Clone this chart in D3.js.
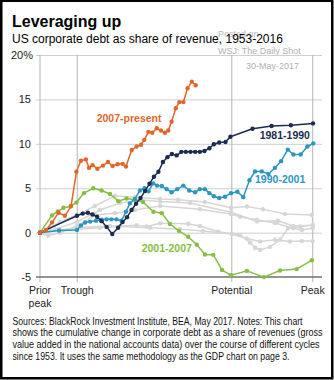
<!DOCTYPE html>
<html>
<head>
<meta charset="utf-8">
<script src="https://cdn.jsdelivr.net/npm/d3@7"></script>
<style>
  body { margin: 0; background: #fff; }
  svg { display: block; font-family: "Liberation Sans", Arial, sans-serif; }
</style>
</head>
<body>
<div id="chart"></div>
<script>
// cycle position: 0 = prior peak ... 100 = right edge of plot
var xTicks = [0, 13.3, 68.5, 97.4];
var xTickNames = [["Prior", "peak"], ["Trough"], ["Potential"], ["Peak"]];
var yTicks = [-5, 0, 5, 10, 15, 20];

// highlighted cycles
var orangeX = [0, 2.1, 4.3, 6.6, 8.9, 11.1, 13.0, 14.6, 16.4, 17.5, 18.75, 20.5, 22.5, 24.3, 25.9, 27.7, 29.5, 30.7, 32.75, 34.5, 36.1, 37.25, 38.7, 40.1, 41.7, 43.2, 44.6, 45.8, 47.0, 48.5, 49.75, 51.2, 52.7, 54.2, 55.6];
var orangeY = [0, 0.3, 1.15, 2.25, 1.9, 3.0, 6.85, 8.1, 8.25, 7.3, 7.6, 7.2, 7.55, 7.95, 7.5, 7.7, 7.75, 7.45, 9.3, 9.7, 9.9, 10.45, 11.35, 11.25, 11.75, 11.5, 11.25, 11.5, 12.5, 14.0, 14.7, 14.7, 16.25, 17.0, 16.6];

var navyX = [0, 13.2, 15.25, 17.1, 18.75, 20.4, 22.0, 23.8, 25.8, 27.9, 29.5, 31.1, 32.7, 34.3, 35.9, 37.5, 39.1, 40.7, 42.3, 43.9, 45.5, 47.1, 48.8, 50.5, 52.1, 53.75, 55.4, 57.1, 58.75, 60.5, 62.1, 64.0, 66.25, 68.0, 75.9, 82.7, 89.6, 97.5];
var navyY = [0, 1.9, 2.15, 2.25, 2.05, 1.8, 1.3, 0.65, -0.15, 0.55, 1.2, 1.75, 2.55, 3.25, 3.9, 4.7, 5.5, 6.3, 6.85, 7.95, 8.5, 8.85, 8.7, 9.1, 9.1, 9.1, 9.1, 9.1, 9.2, 9.5, 9.95, 10.15, 10.2, 10.8, 11.7, 12.0, 12.1, 12.3];

var blueX = [0, 6.8, 13.2, 14.6, 16.1, 17.9, 20.0, 22.0, 23.75, 25.5, 27.3, 29.1, 30.7, 32.1, 33.9, 35.7, 37.3, 38.75, 40.4, 41.8, 43.5, 45.25, 47.0, 49.0, 51.2, 53.3, 55.4, 57.1, 58.9, 60.5, 62.1, 64.0, 66.1, 68.2, 70.5, 72.6, 74.8, 76.8, 79.2, 81.6, 83.9, 86.1, 88.5, 90.5, 93.1, 95.5, 97.6];
var blueY = [0, 0.25, 0.3, 0.8, 1.15, 1.25, 1.35, 1.45, 1.5, 1.5, 1.5, 1.35, 2.35, 3.3, 3.8, 4.75, 5.0, 4.65, 5.55, 5.3, 5.25, 4.9, 4.55, 4.9, 5.3, 4.75, 4.55, 4.9, 4.9, 4.45, 4.1, 3.9, 4.05, 4.45, 4.6, 4.0, 5.9, 6.9, 6.9, 6.6, 7.3, 8.05, 9.35, 8.8, 8.8, 9.7, 10.05];

var greenX = [0, 4.3, 6.4, 8.4, 10.9, 13.0, 15.7, 19.0, 22.0, 25.0, 28.0, 30.9, 33.9, 36.8, 40.5, 43.5, 46.4, 49.6, 52.9, 56.0, 58.9, 61.9, 65.0, 68.2, 73.9, 80.0, 85.7, 91.7, 97.1];
var greenY = [0, 1.95, 2.4, 2.8, 2.95, 3.4, 4.45, 5.0, 4.75, 4.35, 3.55, 3.85, 3.7, 3.45, 2.35, 2.2, 0.98, 0.2, -0.45, -1.35, -2.45, -2.5, -4.2, -4.8, -4.3, -5.0, -4.25, -4.1, -3.1];

// other post-1953 cycles, drawn in grey
var grey1X = [0, 3.6, 7.1, 13.2, 19.6, 26.8, 33.9, 42.9, 49.3, 58.9, 68.2, 73.9, 79.6, 87.5, 97.1];
var grey1Y = [0, 0.55, 1.2, 2.0, 3.0, 4.15, 4.0, 3.8, 3.7, 3.45, 2.8, 2.95, 2.65, 2.1, 2.0];
var grey2X = [0, 5.4, 13.2, 21.4, 28.6, 35.7, 42.9, 53.6, 68.2, 77.5, 85.0, 90.4, 97.4];
var grey2Y = [0, 0.4, 1.2, 2.55, 3.35, 3.7, 3.5, 3.35, 2.3, 1.25, 1.35, 0.75, 0.85];
var grey3X = [0, 2.9, 7.1, 13.2, 19.6, 26.8, 33.9, 42.9, 57.1, 68.2, 71.4, 77.4, 83.9, 90.5, 93.5, 97.4];
var grey3Y = [0, -0.35, 0, 0.75, 2.0, 2.2, 2.55, 3.0, 2.65, 2.1, 1.8, 1.45, 1.1, 0.5, 0.3, 0.5];
var grey4X = [0, 7.1, 13.2, 21.4, 28.6, 34.5, 38.1, 42.9, 52.9, 57.1, 63.6, 71.4, 75.0, 76.8, 78.6, 82.1, 85.7, 88.6, 92.9, 97.4];
var grey4Y = [0, 0.3, 0.4, 0.55, 0.75, 0.85, 0.7, 1.05, 1.0, 0.75, 0.1, -0.25, -1.1, -1.7, -1.95, -1.6, -0.8, 0.5, 0.7, 0.85];
var grey5X = [0, 13.2, 25.0, 39.3, 50.0, 58.2, 68.5, 73.8, 78.6, 83.9, 89.3, 93.5, 97.4];
var grey5Y = [0, 0.55, 0.75, 0.55, 0.4, 0.2, -0.15, -0.65, -1.0, -0.8, -1.0, -0.95, -0.95];

var cycleNames = ["2007-present", "1981-1990", "1990-2001", "2001-2007"];

var W = 334, H = 380;
var svg = d3.select("#chart").append("svg")
  .attr("width", W)
  .attr("height", H);

svg.append("rect")
  .attr("x", 1.25).attr("y", 0.75)
  .attr("width", W - 3).attr("height", H - 2.5)
  .attr("fill", "#fff")
  .attr("stroke", "#000")
  .attr("stroke-width", 2.5);

var x = d3.scaleLinear().domain([0, 100]).range([40, 320]);
var y = d3.scaleLinear().domain([-5, 20]).range([277.1, 55]);

// header
svg.append("text").attr("x", 12).attr("y", 26.5)
  .attr("font-size", 16).attr("font-weight", "bold").attr("fill", "#000")
  .text("Leveraging up");
svg.append("text").attr("x", 218).attr("y", 37)
  .attr("font-size", 9).attr("fill", "#b8b8b8")
  .text("Posted on");
svg.append("text").attr("x", 12).attr("y", 42.5)
  .attr("font-size", 12).attr("fill", "#000")
  .text("US corporate debt as share of revenue, 1953-2016");
svg.append("text").attr("x", 218).attr("y", 54)
  .attr("font-size", 9).attr("fill", "#b0b0b0")
  .text("WSJ: The Daily Shot");
svg.append("text").attr("x", 299).attr("y", 69)
  .attr("font-size", 9).attr("fill", "#b0b0b0").attr("text-anchor", "end")
  .text("30-May-2017");

// grid
var grid = svg.append("g");
grid.selectAll("line.h")
  .data(yTicks.filter(function(d) { return d > -5; }))
  .enter().append("line")
  .attr("x1", 36).attr("x2", 322)
  .attr("y1", function(d) { return y(d) + 0.5; })
  .attr("y2", function(d) { return y(d) + 0.5; })
  .attr("stroke", "#cfcfcf").attr("stroke-width", 1);

grid.selectAll("line.v")
  .data(xTicks)
  .enter().append("line")
  .attr("x1", function(d) { return x(d); })
  .attr("x2", function(d) { return x(d); })
  .attr("y1", y(20)).attr("y2", y(-5) + 5)
  .attr("stroke", "#b5b5b5").attr("stroke-width", 1);

grid.append("line")
  .attr("x1", 36).attr("x2", 322)
  .attr("y1", y(-5)).attr("y2", y(-5))
  .attr("stroke", "#707070").attr("stroke-width", 1.5);

// y tick labels
svg.append("g").selectAll("text")
  .data(yTicks)
  .enter().append("text")
  .attr("x", function(d) { return d === 20 ? 33 : 31; })
  .attr("y", function(d) { return y(d) + 4; })
  .attr("text-anchor", "end")
  .attr("font-size", 11).attr("fill", "#222")
  .text(function(d) { return d === 20 ? "20%" : d; });

// x tick labels
var xl = svg.append("g").selectAll("text")
  .data(xTicks)
  .enter().append("text")
  .attr("x", function(d) { return x(d); })
  .attr("y", 294)
  .attr("text-anchor", "middle")
  .attr("font-size", 10.5).attr("fill", "#222");
xl.each(function(d, i) {
  var t = d3.select(this);
  xTickNames[i].forEach(function(s, j) {
    t.append("tspan").attr("x", x(d)).attr("dy", j ? 12.5 : 0).text(s);
  });
});

// lines
var cycles = [
  { xs: grey1X, ys: grey1Y, color: "#d6d6d6" },
  { xs: grey2X, ys: grey2Y, color: "#d6d6d6" },
  { xs: grey3X, ys: grey3Y, color: "#d6d6d6" },
  { xs: grey4X, ys: grey4Y, color: "#d6d6d6" },
  { xs: grey5X, ys: grey5Y, color: "#d6d6d6" },
  { xs: greenX, ys: greenY, color: "#88bd45" },
  { xs: blueX, ys: blueY, color: "#2b96bf" },
  { xs: navyX, ys: navyY, color: "#1c2b50" },
  { xs: orangeX, ys: orangeY, color: "#e0672c" }
];

var line = d3.line()
  .x(function(d) { return x(d[0]); })
  .y(function(d) { return y(d[1]); });

cycles.forEach(function(c) {
  var pts = c.xs.map(function(v, i) { return [v, c.ys[i]]; });
  var g = svg.append("g");
  g.append("path")
    .attr("d", line(pts))
    .attr("fill", "none")
    .attr("stroke", c.color)
    .attr("stroke-width", 1.5)
    .attr("stroke-linejoin", "round");
  g.selectAll("circle")
    .data(pts)
    .enter().append("circle")
    .attr("cx", function(d) { return x(d[0]); })
    .attr("cy", function(d) { return y(d[1]); })
    .attr("r", 2.2)
    .attr("fill", c.color);
});

// cycle labels
var labels = [
  { name: cycleNames[0], at: [20.25, 12.5], anchor: "start", color: "#e0672c" },
  { name: cycleNames[1], at: [96.4, 10.6], anchor: "end", color: "#1c2b50" },
  { name: cycleNames[2], at: [76.8, 5.56], anchor: "start", color: "#2b96bf" },
  { name: cycleNames[3], at: [36.3, -2.14], anchor: "start", color: "#88bd45" }
];
svg.append("g").selectAll("text")
  .data(labels)
  .enter().append("text")
  .attr("x", function(d) { return x(d.at[0]); })
  .attr("y", function(d) { return y(d.at[1]); })
  .attr("text-anchor", function(d) { return d.anchor; })
  .attr("font-size", 10.5).attr("font-weight", "bold")
  .attr("fill", function(d) { return d.color; })
  .text(function(d) { return d.name; });

// notes
var notes = [
  "Sources: BlackRock Investment Institute, BEA, May 2017. Notes: This chart",
  "shows the cumulative change in corporate debt as a share of revenues (gross",
  "value added in the national accounts data) over the course of different cycles",
  "since 1953. It uses the same methodology as the GDP chart on page 3."
];
var noteWidths = [290, 310, 307, 277];
svg.append("g").selectAll("text")
  .data(notes)
  .enter().append("text")
  .attr("x", 12.5)
  .attr("y", function(d, i) { return 324.5 + i * 11.7; })
  .attr("font-family", "'Liberation Sans Narrow', 'Arial Narrow', 'Liberation Sans', sans-serif")
  .attr("font-size", 10.5).attr("fill", "#111")
  .attr("textLength", function(d, i) { return noteWidths[i]; })
  .attr("lengthAdjust", "spacingAndGlyphs")
  .text(function(d) { return d; });
</script>
</body>
</html>
